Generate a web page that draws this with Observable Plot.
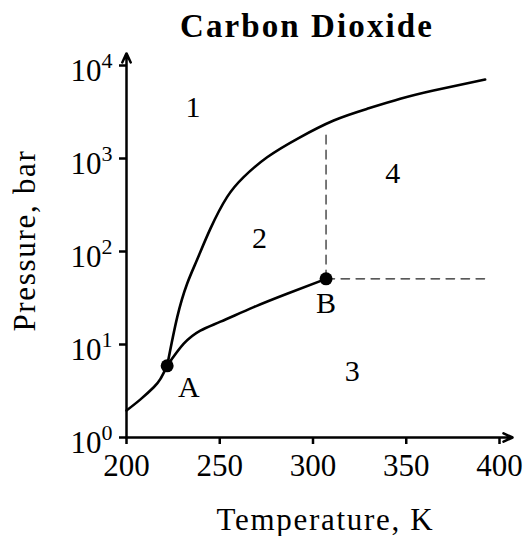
<!DOCTYPE html>
<html><head><meta charset="utf-8">
<script src="https://cdn.jsdelivr.net/npm/d3@7"></script>
<script src="https://cdn.jsdelivr.net/npm/@observablehq/plot@0.6"></script>
<style>
body{margin:0;background:#fff;}
#title{width:525px;height:48px;box-sizing:border-box;padding-left:89px;text-align:center;font-family:"Liberation Serif",serif;font-weight:bold;font-size:33px;line-height:52px;letter-spacing:2.1px;white-space:nowrap;color:#000;}
</style></head><body>
<div id="title">Carbon Dioxide</div>
<div id="chart"></div>
<script>
// ---- data ----
const xTicks = [200, 250, 300, 350, 400];
const yTicks = [1, 10, 100, 1000, 10000];

const subT = [200, 207.5, 214.6, 218.2, 221.8];
const subP = [1.95, 2.57, 3.47, 4.27, 5.9];

const meltT = [221.8, 227.2, 232.5, 237.9, 245.0, 253.9, 262.8, 275.4, 292.3, 311.1, 329.0, 346.8, 364.6, 392.3];
const meltP = [5.9, 19.7, 45, 82, 176, 384, 630, 1032, 1660, 2564, 3420, 4385, 5383, 7070];

const vapT = [221.8, 230.7, 239.6, 250.4, 268.2, 286.1, 307.0];
const vapP = [5.9, 10.2, 14.1, 17.6, 25.2, 35.1, 50.8];

const pointNames = ["A", "B"];
const pointT = [221.8, 307.0];
const pointP = [5.9, 50.8];
const pointLabelT = [233.4, 307.0];
const pointLabelP = [3.5, 27.4];

const regionNames = ["1", "2", "3", "4"];
const regionT = [235.7, 271.3, 321.1, 342.7];
const regionP = [3560, 137, 5.1, 684];

const criticalTopP = 2000;    // top of vertical dashed line
const criticalRightT = 392.4; // end of horizontal dashed line

const xAxisEnd = 407;
const yAxisEnd = 13500;

const xLabel = "Temperature, K";
const yLabel = "Pressure, bar";

// ---- build tables ----
const zip = (T, P) => T.map((t, i) => ({T: t, P: P[i]}));
const sub = zip(subT, subP);
const melt = zip(meltT, meltP);
const vap = zip(vapT, vapP);
const pts = pointNames.map((n, i) => ({name: n, T: pointT[i], P: pointP[i], lT: pointLabelT[i], lP: pointLabelP[i]}));
const regions = regionNames.map((n, i) => ({name: n, T: regionT[i], P: regionP[i]}));
const vDash = [{T: pointT[1], P: pointP[1]}, {T: pointT[1], P: criticalTopP}];
const hDash = [{T: pointT[1], P: pointP[1]}, {T: criticalRightT, P: pointP[1]}];
const axes = [
  {x1: xTicks[0], y1: yTicks[0], x2: xAxisEnd, y2: yTicks[0]},
  {x1: xTicks[0], y1: yTicks[0], x2: xTicks[0], y2: yAxisEnd}
];

const font = "Liberation Serif, serif";

const chart = Plot.plot({
  width: 525,
  height: 488,
  marginTop: 17,
  marginBottom: 99,
  marginLeft: 126,
  marginRight: 26,
  x: {domain: [200, 400]},
  y: {type: "log", domain: [1, 10000]},
  style: {fontFamily: font, background: "white", color: "black", overflow: "visible"},
  marks: [
    Plot.axisX({ticks: xTicks, tickSize: 7, strokeWidth: 2.5, tickFormat: () => "", label: null}),
    Plot.axisY({ticks: yTicks, tickSize: 7, strokeWidth: 2.5, tickFormat: () => "", label: null}),
    Plot.arrow(axes, {x1: "x1", y1: "y1", x2: "x2", y2: "y2", strokeWidth: 2.5, headLength: 6, headAngle: 50, stroke: "black"}),
    Plot.text(xTicks, {x: d => d, y: yTicks[0], text: d => String(d), fontSize: 31, lineAnchor: "bottom", dy: 38}),
    Plot.text(yTicks, {y: d => d, frameAnchor: "left", text: () => "10", fontSize: 31, textAnchor: "end", lineAnchor: "bottom", dx: -25, dy: 15}),
    Plot.text(yTicks, {y: d => d, frameAnchor: "left", text: d => String(Math.round(Math.log10(d))), fontSize: 22, textAnchor: "start", lineAnchor: "bottom", dx: -25, dy: 2}),
    Plot.line(vDash, {x: "T", y: "P", stroke: "#6a6a6a", strokeWidth: 1.8, strokeDasharray: "8.5,6.5"}),
    Plot.line(hDash, {x: "T", y: "P", stroke: "#222", strokeWidth: 1.4, strokeDasharray: "8.5,6.5"}),
    Plot.line(sub, {x: "T", y: "P", curve: "natural", strokeWidth: 2.6, stroke: "black"}),
    Plot.line(melt, {x: "T", y: "P", curve: "natural", strokeWidth: 2.6, stroke: "black"}),
    Plot.line(vap, {x: "T", y: "P", curve: "natural", strokeWidth: 2.6, stroke: "black"}),
    Plot.dot(pts, {x: "T", y: "P", r: 6.5, fill: "black", stroke: null}),
    Plot.text(pts, {x: "lT", y: "lP", text: "name", fontSize: 30}),
    Plot.text(regions, {x: "T", y: "P", text: "name", fontSize: 30}),
    Plot.text([xLabel], {frameAnchor: "bottom", text: d => d, fontSize: 31, textAnchor: "middle", lineAnchor: "bottom", dx: 12.5, dy: 92}),
    Plot.text([yLabel], {frameAnchor: "left", text: d => d, fontSize: 31, textAnchor: "middle", lineAnchor: "middle", rotate: -90, dx: -101, dy: -11})
  ]
});
document.getElementById("chart").appendChild(chart);
// letter spacing for axis titles
d3.select(chart).selectAll("text").filter(function() { const t = this.textContent; return t === xLabel || t === yLabel; }).style("letter-spacing", "1.7px");
</script>
</body></html>
